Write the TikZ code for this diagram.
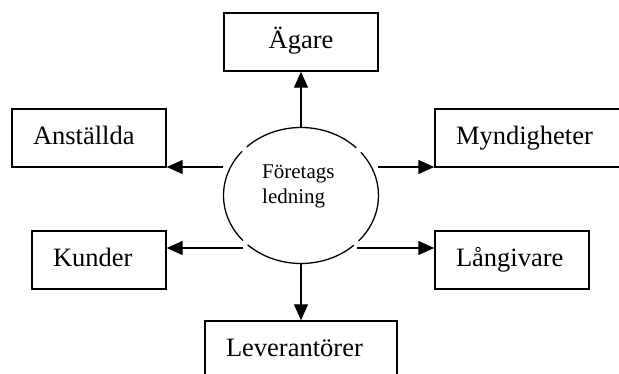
\documentclass[tikz,border=0pt]{standalone}
\usepackage{fontspec}
\setmainfont{Liberation Serif}
\usetikzlibrary{arrows.meta,calc,shapes.geometric}
\begin{document}
\begin{tikzpicture}[x=1pt,y=1pt,
  boxnode/.style={draw,line width=1.4pt,rectangle,minimum height=58pt,inner ysep=0pt,inner xsep=21pt,
    font=\fontsize{26.5}{30}\selectfont,text height=20pt,text depth=7pt,align=left},
  conn/.style={line width=1.3pt,-{Triangle[length=16pt,width=14pt]}},
  ring/.style={line width=1.3pt}]
\useasboundingbox (0,0) rectangle (619,374);
% boxes
\node[boxnode,minimum width=154pt,align=center,inner xsep=0pt] (agare) at (301,332) {Ägare};
\node[boxnode,text width=112pt] (anst) at (89,236) {Anställda};
\node[boxnode,text width=148pt] (mynd) at (530,236) {Myndigheter};
\node[boxnode,text width=92pt] (kund) at (99,114) {Kunder};
\node[boxnode,text width=112pt] (lang) at (512,114) {Långivare};
\node[boxnode,text width=150pt] (lev) at (301,24) {Leverantörer};
% central ellipse
\node[ellipse,draw=none,minimum width=155pt,minimum height=136pt,inner sep=0pt] (fl) at (301,178.5) {};
\draw[ring] (fl.center) ++(44.5:77.5pt and 68pt) arc[start angle=44.5,end angle=134.5,x radius=77.5pt,y radius=68pt];
\draw[ring] (fl.center) ++(139.5:77.5pt and 68pt) arc[start angle=139.5,end angle=221.5,x radius=77.5pt,y radius=68pt];
\draw[ring] (fl.center) ++(226.5:77.5pt and 68pt) arc[start angle=226.5,end angle=313,x radius=77.5pt,y radius=68pt];
\draw[ring] (fl.center) ++(318:77.5pt and 68pt) arc[start angle=318,end angle=399.5,x radius=77.5pt,y radius=68pt];
\node[anchor=west,align=left,inner sep=0pt,font=\fontsize{21}{25}\selectfont] (fltext) at (262,188) {Företags\\ledning};
% connector start points
\coordinate (sa) at (223,207);
\coordinate (sm) at (378,207);
\coordinate (sk) at (243,126);
\coordinate (sl) at (357,126);
% connectors
\draw[conn] (fl.north) -- (agare.south);
\draw[conn] (fl.south) -- (lev.north);
\draw[conn] (sa) -- (sa -| anst.east);
\draw[conn] (sm) -- (sm -| mynd.west);
\draw[conn] (sk) -- (sk -| kund.east);
\draw[conn] (sl) -- (sl -| lang.west);
\end{tikzpicture}
\end{document}
